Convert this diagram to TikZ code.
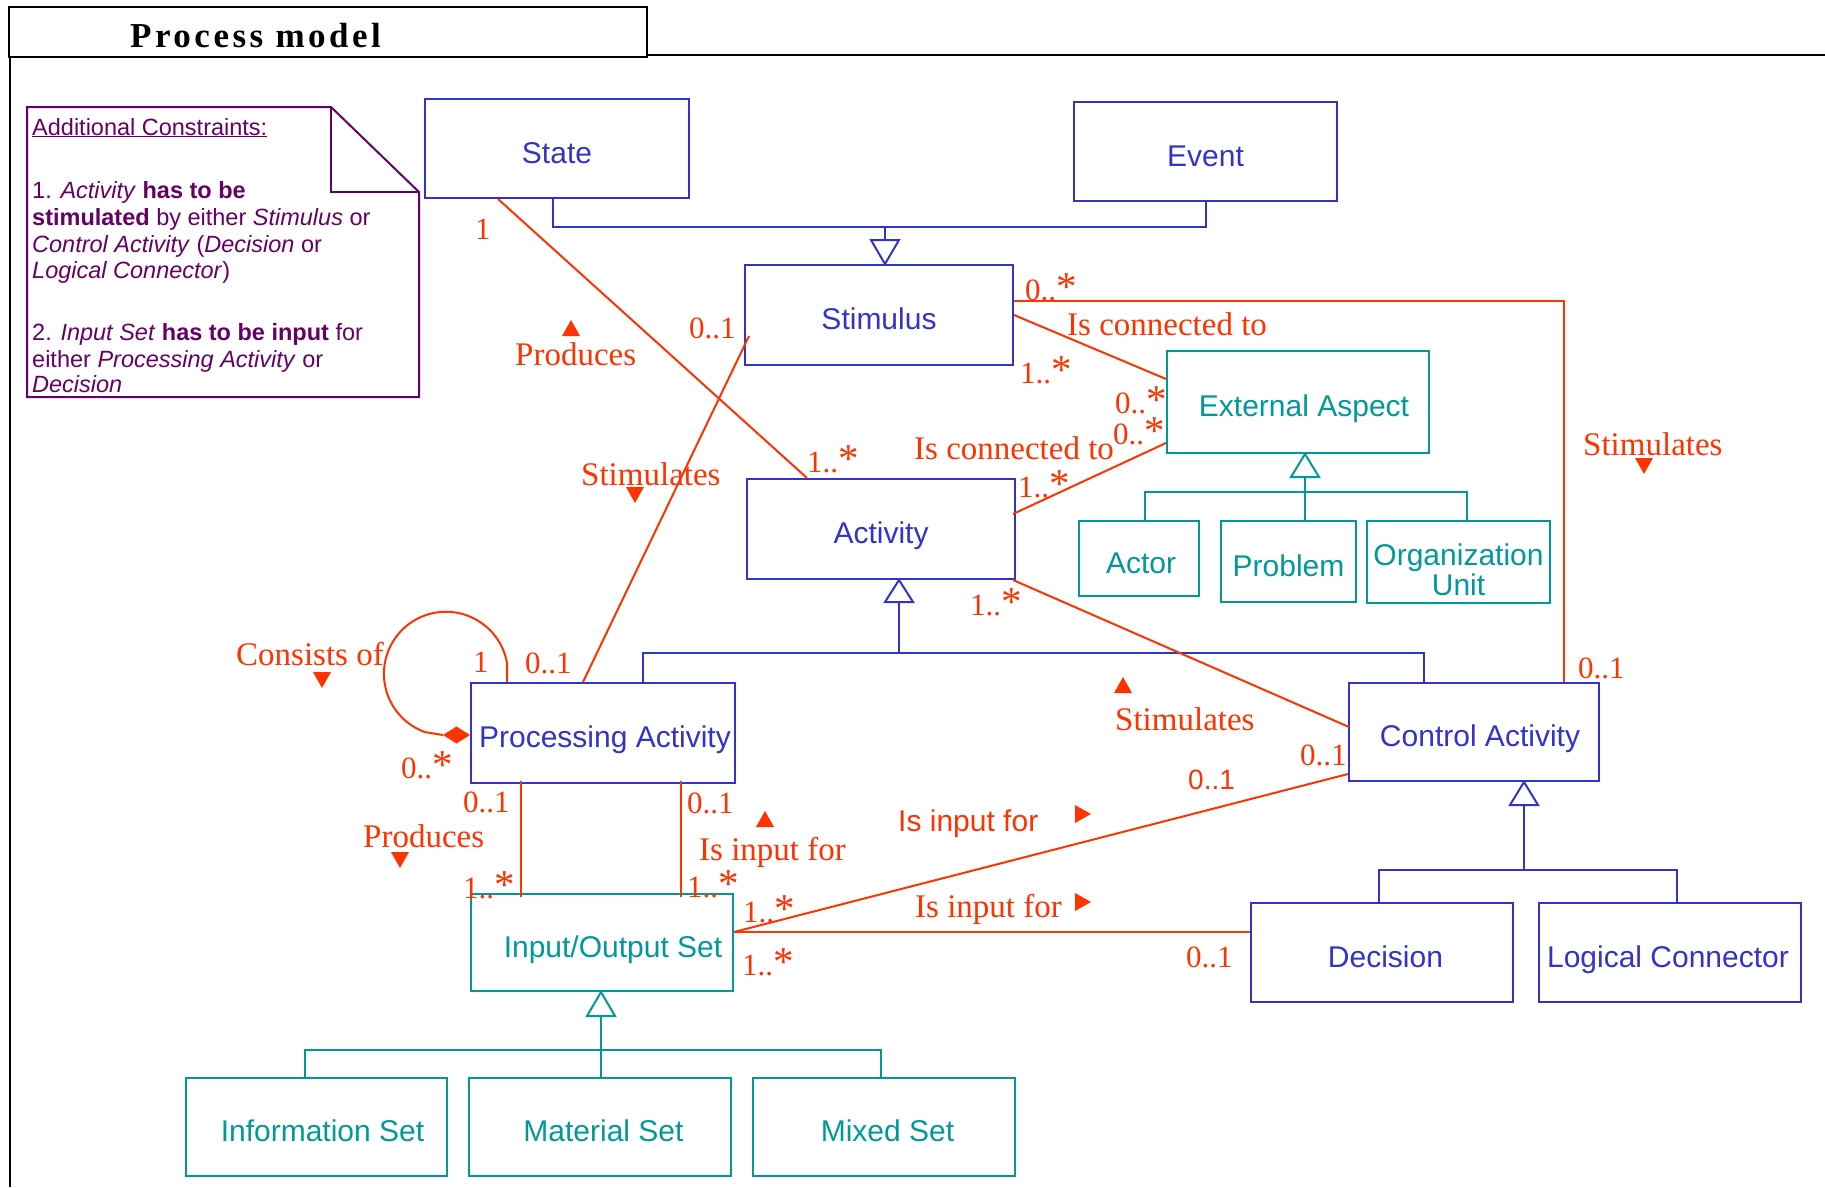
\documentclass[tikz,border=0pt]{standalone}
\usepackage{fontspec}
\setmainfont{Liberation Serif}
\newfontfamily\sansf{Liberation Sans}
\newfontfamily\titlef[LetterSpace=10]{Liberation Serif}
\definecolor{cblue}{RGB}{51,51,204}
\definecolor{cteal}{RGB}{0,153,153}
\definecolor{cred}{RGB}{255,51,0}
\definecolor{cpurple}{RGB}{102,0,102}
% large asterisk used in multiplicities
\newcommand\mstar{{\fontsize{41}{41}\selectfont *}}
% open generalization triangle: tip, base offset, colour
\newcommand\gentri[3]{\filldraw[fill=white, draw=#3, line width=2pt, line join=miter] (#1) -- ++(-14,#2) -- ++(28,0) -- cycle;}
% small filled reading-direction triangles
\newcommand\uptri[1]{\fill[cred] (#1) ++(-9,8) -- ++(18,0) -- ++(-9,-16) -- cycle;}
\newcommand\downtri[1]{\fill[cred] (#1) ++(-9,-8) -- ++(18,0) -- ++(-9,16) -- cycle;}
\newcommand\righttri[1]{\fill[cred] (#1) ++(-8,-9) -- ++(0,18) -- ++(16,-9) -- cycle;}

\begin{document}
\begin{tikzpicture}[x=1pt,y=-1pt,
  cls/.style={draw, line width=2pt, inner sep=0pt, align=center, text height=33pt, text depth=4pt, font=\sansf\fontsize{30}{30}\selectfont},
  bcls/.style={cls, draw=cblue, text=cblue},
  tcls/.style={cls, draw=cteal, text=cteal},
  bl/.style={draw=cblue, line width=2pt},
  tl/.style={draw=cteal, line width=2pt},
  rl/.style={draw=cred, line width=2pt},
  mult/.style={anchor=base west, inner sep=0pt, text=cred, font=\fontsize{31}{31}\selectfont},
  assoc/.style={anchor=base west, inner sep=0pt, text=cred, font=\fontsize{33}{33}\selectfont},
  smult/.style={mult, font=\sansf\fontsize{28}{28}\selectfont},
  sassoc/.style={assoc, font=\sansf\fontsize{30}{30}\selectfont},
  notetxt/.style={anchor=base west, inner sep=0pt, text=cpurple, font=\sansf\fontsize{23.5}{26}\selectfont},
]
\useasboundingbox[fill=white] (0,0) rectangle (1825,1187);

% frame and title tab
\draw[line width=2pt] (9,7) rectangle (647,57);
\draw[line width=2pt] (647,55) -- (1825,55);
\draw[line width=2pt] (10,57) -- (10,1187);
\node[anchor=base west, inner sep=0pt, font=\titlef\bfseries\fontsize{35}{35}\selectfont] (title) at (130,47) {Process model};

% constraint note
\draw[cpurple, line width=2pt, line join=miter] (27,107) -- (331,107) -- (419,192) -- (419,397) -- (27,397) -- cycle;
\draw[cpurple, line width=2pt] (331,107) -- (331,192) -- (419,192);
\node[notetxt] (nl1) at (32,135) {\underline{Additional Constraints:}};
\node[notetxt] (nl2) at (32,198) {1. \textit{Activity} \textbf{has to be}};
\node[notetxt] (nl3) at (32,225) {\textbf{stimulated} by either \textit{Stimulus} or};
\node[notetxt] (nl4) at (32,252) {\textit{Control Activity} (\textit{Decision} or};
\node[notetxt] (nl5) at (32,278) {\textit{Logical Connector})};
\node[notetxt] (nl6) at (32,340) {2. \textit{Input Set} \textbf{has to be input} for};
\node[notetxt] (nl7) at (32,367) {either \textit{Processing Activity} or};
\node[notetxt] (nl8) at (32,392) {\textit{Decision}};

% classes
\node[bcls, minimum width=264pt, minimum height=99pt] (state) at (557,148.5) {State};
\node[bcls, minimum width=263pt, minimum height=99pt] (event) at (1205.5,151.5) {Event};
\node[bcls, minimum width=268pt, minimum height=100pt] (stimulus) at (879,315) {Stimulus};
\node[bcls, minimum width=268pt, minimum height=100pt] (activity) at (881,529) {Activity};
\node[tcls, minimum width=262pt, minimum height=102pt] (extasp) at (1298,402) {\hspace*{12pt}External Aspect};
\node[tcls, minimum width=120pt, minimum height=75pt] (actor) at (1139,558.5) {\hspace*{4pt}Actor};
\node[tcls, minimum width=135pt, minimum height=81pt] (problem) at (1288.5,561.5) {Problem};
\node[tcls, minimum width=183pt, minimum height=82pt, text height=, text depth=] (orgunit) at (1458.5,562) {\rule{0pt}{37pt}Organization\\Unit};
\node[bcls, minimum width=264pt, minimum height=100pt] (pa) at (603,733) {\hspace*{4pt}Processing Activity};
\node[bcls, minimum width=250pt, minimum height=98pt] (ctrl) at (1474,732) {\hspace*{12pt}Control Activity};
\node[tcls, minimum width=262pt, minimum height=97pt] (ioset) at (602,942.5) {\hspace*{22pt}Input/Output Set};
\node[bcls, minimum width=262pt, minimum height=99pt] (decision) at (1382,952.5) {\hspace*{7pt}Decision};
\node[bcls, minimum width=262pt, minimum height=99pt] (logconn) at (1670,952.5) {Logical Connector\hspace*{4pt}};
\node[tcls, minimum width=261pt, minimum height=98pt] (infoset) at (316.5,1127) {\hspace*{12pt}Information Set};
\node[tcls, minimum width=262pt, minimum height=98pt] (matset) at (600,1127) {\hspace*{7pt}Material Set};
\node[tcls, minimum width=262pt, minimum height=98pt] (mixset) at (884,1127) {\hspace*{7pt}Mixed Set};

% generalizations
\coordinate (tipS) at ([shift={(6,0)}]stimulus.north);
\coordinate (barS) at ([shift={(0,-37)}]tipS);
\draw[bl] ([shift={(-4,0)}]state.south) |- (barS);
\draw[bl] (event.south) |- (barS);
\draw[bl] (barS) -- ([shift={(0,-24)}]tipS);
\gentri{tipS}{-24}{cblue}

\coordinate (tipA) at ([shift={(18,0)}]activity.south);
\coordinate (barA) at ([shift={(0,73)}]tipA);
\draw[bl] ([shift={(40,0)}]pa.north) |- (barA);
\draw[bl] ([shift={(-50,0)}]ctrl.north) |- (barA);
\draw[bl] ([shift={(0,22)}]tipA) -- (barA);
\gentri{tipA}{22}{cblue}

\coordinate (tipC) at ([shift={(50,0)}]ctrl.south);
\coordinate (barC) at ([shift={(0,88)}]tipC);
\draw[bl] ([shift={(-3,0)}]decision.north) |- (barC);
\draw[bl] ([shift={(7,0)}]logconn.north) |- (barC);
\draw[bl] ([shift={(0,23)}]tipC) -- (barC);
\gentri{tipC}{23}{cblue}

\coordinate (tipE) at ([shift={(7,0)}]extasp.south);
\coordinate (barE) at ([shift={(0,38)}]tipE);
\draw[tl] ([shift={(6,0)}]actor.north) |- (barE);
\draw[tl] ([shift={(8.5,0)}]orgunit.north) |- (barE);
\draw[tl] ([shift={(0,23)}]tipE) -- ([shift={(16.5,0)}]problem.north);
\gentri{tipE}{23}{cteal}

\coordinate (tipI) at ([shift={(-1,0)}]ioset.south);
\coordinate (barI) at ([shift={(0,58)}]tipI);
\draw[tl] ([shift={(-11.5,0)}]infoset.north) |- (barI);
\draw[tl] ([shift={(-3,0)}]mixset.north) |- (barI);
\draw[tl] ([shift={(0,24)}]tipI) -- ([shift={(1,0)}]matset.north);
\gentri{tipI}{24}{cteal}

% associations
\draw[rl] ([shift={(-59,0)}]state.south) -- ([shift={(-74,0)}]activity.north);
\draw[rl] ([shift={(5,21)}]stimulus.west) -- ([shift={(-20,0)}]pa.north);
\draw[rl] ([shift={(0,-14)}]stimulus.east) -| ([shift={(90,0)}]ctrl.north);
\draw[rl] (stimulus.east) -- ([shift={(0,-23)}]extasp.west);
\draw[rl] ([shift={(-3,-15)}]activity.east) -- ([shift={(0,41)}]extasp.west);
\draw[rl] ([shift={(-3,0)}]activity.south east) -- ([shift={(1,-5)}]ctrl.west);
\draw[rl] ([shift={(-96,0)}]pa.north) -- ++(0,-19) arc[start angle=10, end angle=250, radius=62pt] -- ([shift={(-27,2)}]pa.west);
\fill[cred] ([shift={(0,2)}]pa.west) -- ++(-13.5,-8.5) -- ++(-13.5,8.5) -- ++(13.5,8.5) -- cycle;
\draw[rl] ([shift={(-82,-3)}]pa.south) -- ([shift={(-81,4)}]ioset.north);
\draw[rl] ([shift={(78,-3)}]pa.south) -- ([shift={(79,4)}]ioset.north);
\draw[rl] ([shift={(0,-10.5)}]ioset.east) -- ([shift={(0,42)}]ctrl.west);
\draw[rl] ([shift={(0,-10.5)}]ioset.east) -- ([shift={(0,-20.5)}]decision.west);

% multiplicities
\node[mult] (m1) at (475,239) {1};
\node[mult] (m2) at (807,472) {1..\mstar};
\node[mult] (m3) at (689,338) {0..1};
\node[mult] (m4) at (1025,300) {0..\mstar};
\node[mult] (m5) at (1020,383) {1..\mstar};
\node[mult] (m6) at (1115,413) {0..\mstar};
\node[mult] (m7) at (1113,444) {0..\mstar};
\node[mult] (m8) at (1018,497) {1..\mstar};
\node[mult] (m9) at (970,615) {1..\mstar};
\node[mult] (m10) at (1300,765) {0..1};
\node[mult] (m11) at (1578,678) {0..1};
\node[mult] (m12) at (473,672) {1};
\node[mult] (m13) at (525,673) {0..1};
\node[mult] (m14) at (401,778) {0..\mstar};
\node[mult] (m15) at (463,812) {0..1};
\node[mult] (m16) at (463,898) {1..\mstar};
\node[mult] (m17) at (687,813) {0..1};
\node[mult] (m18) at (687,897) {1..\mstar};
\node[mult] (m19) at (743,922) {1..\mstar};
\node[mult] (m20) at (742,975) {1..\mstar};
\node[mult] (m21) at (1186,967) {0..1};
\node[smult] (m22) at (1188,789) {0..1};

% association names with reading direction
\node[assoc] (a1) at (515,365) {Produces};
\uptri{571,328}
\node[assoc] (a2) at (581,485) {Stimulates};
\downtri{635,495}
\node[assoc] (a3) at (1067,335) {Is connected to};
\node[assoc] (a4) at (914,459) {Is connected to};
\node[assoc] (a5) at (1115,730) {Stimulates};
\uptri{1123,685}
\node[assoc] (a6) at (1583,455) {Stimulates};
\downtri{1644,466}
\node[assoc] (a7) at (236,665) {Consists of};
\downtri{322,680}
\node[assoc] (a8) at (363,847) {Produces};
\downtri{400,860}
\node[assoc] (a9) at (699,860) {Is input for};
\uptri{765,819}
\node[sassoc] (a10) at (898,831) {Is input for};
\righttri{1083,814}
\node[assoc] (a11) at (915,917) {Is input for};
\righttri{1083,902}
\end{tikzpicture}
\end{document}
